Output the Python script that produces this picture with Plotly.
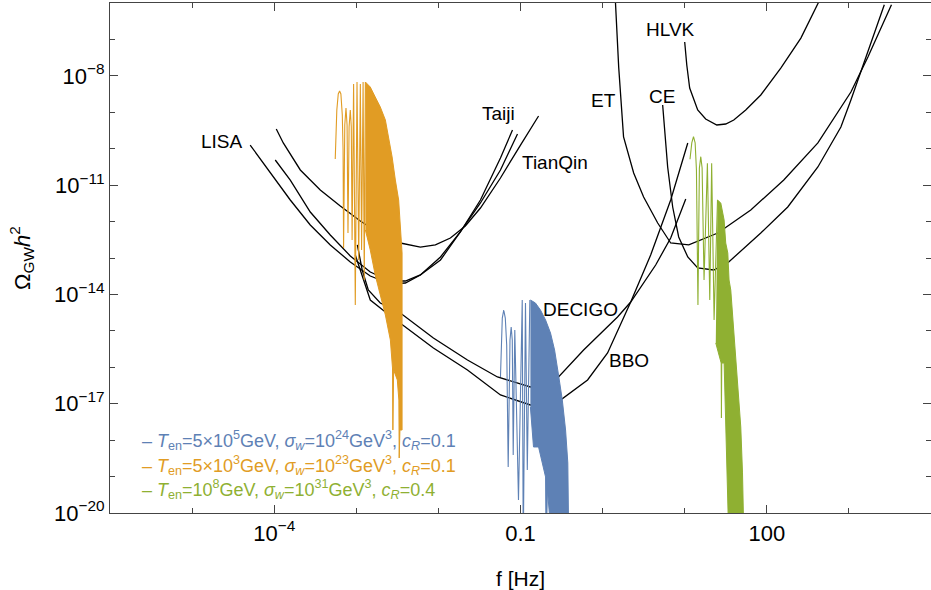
import plotly.graph_objects as go

# ---------------- detector sensitivity curves (f [Hz], Omega h^2) ----------------
lisa_f = [5.10e-5, 8.94e-5, 1.57e-4, 2.75e-4, 4.82e-4, 8.45e-4, 1.48e-3, 2.60e-3, 3.96e-3, 6.03e-3, 1.06e-2, 1.85e-2, 3.25e-2, 5.70e-2, 9.19e-2]
lisa_om = [1.26e-10, 2.30e-11, 3.91e-12, 8.05e-13, 2.28e-13, 7.77e-14, 3.21e-14, 1.94e-14, 2.06e-14, 3.42e-14, 1.07e-13, 5.18e-13, 3.24e-12, 2.61e-11, 2.54e-10]

taiji_f = [1.03e-4, 1.57e-4, 2.75e-4, 4.82e-4, 8.45e-4, 1.48e-3, 2.60e-3, 3.96e-3, 6.03e-3, 1.06e-2, 1.85e-2, 3.25e-2, 5.70e-2, 7.99e-2]
taiji_om = [4.90e-11, 1.38e-11, 1.83e-12, 4.29e-13, 1.14e-13, 4.13e-14, 2.34e-14, 2.34e-14, 3.42e-14, 8.81e-14, 5.18e-13, 3.91e-12, 5.56e-11, 3.27e-10]

tianqin_f = [1.06e-4, 1.29e-4, 2.08e-4, 3.64e-4, 6.38e-4, 1.12e-3, 1.96e-3, 3.44e-3, 6.03e-3, 9.19e-3, 1.40e-2, 2.13e-2, 3.25e-2, 5.70e-2, 0.100, 0.166]
tianqin_om = [3.48e-10, 1.44e-10, 2.61e-11, 7.36e-12, 2.68e-12, 1.04e-12, 4.56e-13, 2.58e-13, 2.00e-13, 2.28e-13, 3.54e-13, 7.57e-13, 2.36e-12, 1.57e-11, 1.26e-10, 7.91e-10]

decigo_f = [1.03e-3, 1.18e-3, 1.40e-3, 1.96e-3, 3.44e-3, 8.69e-3, 2.26e-2, 5.24e-2, 0.132, 0.283, 0.587, 1.52, 2.20, 4.43, 6.75, 10.3]
decigo_om = [2.28e-13, 4.69e-14, 1.32e-14, 5.82e-15, 3.10e-15, 6.37e-16, 1.58e-16, 5.42e-17, 2.88e-17, 5.08e-17, 2.99e-16, 2.40e-15, 6.19e-15, 6.43e-14, 3.54e-13, 4.17e-12]

bbo_f = [9.72e-4, 1.18e-3, 1.48e-3, 2.26e-3, 3.44e-3, 8.69e-3, 2.26e-2, 5.70e-2, 0.132, 0.307, 0.656, 1.15, 2.20, 3.85, 6.75, 10.9]
bbo_om = [1.21e-13, 3.42e-14, 7.03e-15, 3.30e-15, 1.64e-15, 3.39e-16, 8.43e-17, 1.74e-17, 9.23e-18, 1.26e-17, 4.48e-17, 2.47e-16, 6.19e-15, 1.21e-13, 3.91e-12, 1.44e-10]

et_f = [1.43, 1.57, 1.80, 2.39, 3.16, 4.69, 6.75, 11.2, 25.3, 63.8, 161, 419, 1058, 1705, 3300]
et_om = [1.2e-6, 1.75e-8, 2.10e-10, 2.15e-11, 4.73e-12, 9.14e-13, 2.58e-13, 2.28e-13, 4.86e-13, 2.08e-12, 1.38e-11, 1.44e-10, 3.61e-9, 3.30e-8, 9.0e-7]

ce_f = [5.39, 6.20, 7.14, 8.45, 10.9, 14.4, 22.6, 34.4, 84.5, 180, 419, 799, 1058, 1612, 2700]
ce_om = [1.58e-9, 3.15e-11, 2.51e-12, 3.78e-13, 1.07e-13, 5.32e-14, 4.69e-14, 7.77e-14, 4.86e-13, 2.51e-12, 3.15e-11, 3.95e-10, 2.17e-9, 3.30e-8, 9.0e-7]

hlvk_f = [10.0, 10.6, 11.5, 14.4, 18.0, 24.6, 31.6, 39.6, 55.4, 84.5, 148, 260, 440]
hlvk_om = [8.50e-8, 1.99e-8, 4.64e-9, 1.16e-9, 6.55e-10, 4.48e-10, 4.77e-10, 6.14e-10, 1.16e-9, 2.98e-9, 1.64e-8, 1.09e-7, 1.2e-6]

# ---------------- signal spectra ----------------
# orange: T_en = 5e3 GeV  (sparse oscillations, then outline of the dense band)
orange_f = [5.54e-4, 5.79e-4, 6.03e-4, 6.26e-4, 6.49e-4, 6.75e-4, 6.90e-4, 7.00e-4, 7.24e-4, 7.49e-4, 7.72e-4, 7.92e-4,
            8.17e-4, 8.45e-4, 8.69e-4, 8.89e-4, 9.27e-4, 9.72e-4, 1.02e-3, 1.07e-3, 1.12e-3, 1.16e-3, 1.21e-3, 1.25e-3, 1.29e-3]
orange_om = [5.22e-11, 1.16e-9, 3.18e-9, 3.84e-9, 3.18e-9, 8.43e-10, 9.23e-11, 1.88e-13, 4.48e-10, 1.31e-9, 4.48e-10, 4.86e-13,
             3.95e-10, 1.16e-9, 3.95e-10, 3.12e-13, 5.98e-9, 5.13e-15, 6.78e-9, 8.81e-14, 5.98e-9, 1.66e-13, 6.78e-9, 2.49e-14, 6.78e-9]
orange_band_f = [1.29e-3, 1.48e-3, 1.70e-3, 1.96e-3, 2.26e-3, 2.48e-3, 2.73e-3, 2.99e-3, 3.28e-3, 3.61e-3, 3.61e-3,
                 3.40e-3, 3.37e-3, 3.33e-3, 3.30e-3, 3.16e-3, 2.85e-3, 2.82e-3, 2.79e-3, 2.76e-3, 2.60e-3, 2.26e-3, 1.96e-3, 1.70e-3, 1.48e-3, 1.29e-3]
orange_band_om = [6.78e-9, 4.94e-9, 2.63e-9, 1.40e-9, 6.14e-10, 2.10e-10, 5.93e-11, 1.38e-11, 3.91e-12, 1.37e-13, 1.90e-18,
                  1.90e-18, 3.24e-19, 3.24e-19, 1.26e-17, 4.48e-17, 8.43e-17, 1.90e-18, 1.90e-18, 9.57e-17, 5.61e-16, 2.73e-15, 9.65e-15, 3.42e-14, 1.66e-13, 5.88e-13]

# blue: T_en = 5e5 GeV
blue_f = [5.70e-2, 6.00e-2, 6.25e-2, 6.53e-2, 6.79e-2, 7.08e-2, 7.45e-2, 7.70e-2, 7.94e-2, 8.15e-2, 8.52e-2, 9.45e-2,
          0.105, 0.108, 0.115, 0.121, 0.130]
blue_om = [5.42e-17, 2.25e-15, 3.74e-15, 2.25e-15, 4.09e-16, 1.83e-19, 5.61e-16, 1.28e-15, 5.61e-16, 3.92e-19, 1.06e-15, 2.28e-20,
           7.03e-15, 1e-21, 5.82e-15, 1.52e-19, 7.03e-15]
blue_band_f = [0.132, 0.152, 0.175, 0.202, 0.232, 0.260, 0.293, 0.323, 0.354, 0.377, 0.388,
               0.244, 0.213, 0.209, 0.205, 0.202, 0.166, 0.144, 0.132]
blue_band_om = [7.03e-15, 5.82e-15, 3.74e-15, 1.99e-15, 8.74e-16, 2.99e-16, 5.42e-17, 1.26e-17, 1.90e-18, 2.36e-19, 1e-21,
                1e-21, 4.28e-20, 1e-21, 1e-21, 9.75e-20, 6.49e-19, 6.49e-19, 8.13e-18]

# green: T_en = 1e8 GeV
green_f = [11.6, 12.2, 12.8, 13.4, 13.9, 14.2, 14.5, 15.1, 15.7, 16.3, 17.2, 18.9, 20.2, 21.3, 22.8, 25.1]
green_om = [5.13e-11, 1.44e-10, 2.14e-10, 1.44e-10, 2.61e-11, 1.10e-12, 5.13e-15, 2.96e-11, 6.04e-11, 2.96e-11, 2.49e-14,
            3.98e-11, 7.03e-15, 3.98e-11, 1.99e-15, 3.91e-12]
green_band_f = [25.1, 27.5, 30.2, 31.6, 33.5, 34.7, 36.4, 38.5, 39.9, 43.9, 48.2, 50.6, 52.9,
                34.7, 32.5, 30.2, 28.3, 28.0, 27.8, 23.9]
green_band_om = [3.91e-12, 3.24e-12, 1.10e-12, 2.58e-13, 1.37e-13, 2.49e-14, 1.32e-14, 2.40e-15, 1.06e-15, 4.48e-17, 2.30e-18, 1.26e-19, 1e-21,
                 1e-21, 5.37e-19, 1.31e-16, 1.31e-16, 4.06e-18, 1.31e-16, 4.65e-16]

legend_texts = [
    "– <i>T</i><sub>en</sub>=5×10<sup>5</sup>GeV, <i>σ<sub>w</sub></i>=10<sup>24</sup>GeV<sup>3</sup>, <i>c<sub>R</sub></i>=0.1",
    "– <i>T</i><sub>en</sub>=5×10<sup>3</sup>GeV, <i>σ<sub>w</sub></i>=10<sup>23</sup>GeV<sup>3</sup>, <i>c<sub>R</sub></i>=0.1",
    "– <i>T</i><sub>en</sub>=10<sup>8</sup>GeV, <i>σ<sub>w</sub></i>=10<sup>31</sup>GeV<sup>3</sup>, <i>c<sub>R</sub></i>=0.4",
]

x_tickvals = [1e-4, 0.1, 100]
x_ticktext = ["10<sup>−4</sup>", "0.1", "100"]
x_minor = [1e-6, 1e-5, 1e-3, 1e-2, 1, 10, 1e3, 1e4]
y_tickvals = [1e-8, 1e-11, 1e-14, 1e-17, 1e-20]
y_ticktext = ["10<sup>−8</sup>", "10<sup>−11</sup>", "10<sup>−14</sup>", "10<sup>−17</sup>", "10<sup>−20</sup>"]
y_minor = [1e-6, 1e-7, 1e-9, 1e-10, 1e-12, 1e-13, 1e-15, 1e-16, 1e-18, 1e-19]

BLUE = "#5E81B5"
ORANGE = "#E19C24"
GREEN = "#8FB032"
FONT = "Arial, Liberation Sans, sans-serif"

fig = go.Figure()

for fx, om in [(lisa_f, lisa_om), (taiji_f, taiji_om), (tianqin_f, tianqin_om),
               (decigo_f, decigo_om), (bbo_f, bbo_om), (et_f, et_om), (ce_f, ce_om), (hlvk_f, hlvk_om)]:
    fig.add_trace(go.Scatter(x=fx, y=om, mode="lines", line=dict(color="black", width=1.3),
                             showlegend=False, hoverinfo="skip"))

for fx, om, bf, bo, col in [(blue_f, blue_om, blue_band_f, blue_band_om, BLUE),
                            (orange_f, orange_om, orange_band_f, orange_band_om, ORANGE),
                            (green_f, green_om, green_band_f, green_band_om, GREEN)]:
    fig.add_trace(go.Scatter(x=bf, y=bo, mode="lines", fill="toself", fillcolor=col,
                             line=dict(color=col, width=1), showlegend=False, hoverinfo="skip"))
    fig.add_trace(go.Scatter(x=fx, y=om, mode="lines", line=dict(color=col, width=1.1),
                             showlegend=False, hoverinfo="skip"))

labels = [("LISA", 0.1364, 0.7275), ("Taiji", 0.4726, 0.7843), ("TianQin", 0.5420, 0.6882),
          ("ET", 0.6017, 0.8098), ("HLVK", 0.6821, 0.9471), ("CE", 0.6724, 0.8157),
          ("DECIGO", 0.5725, 0.40), ("BBO", 0.6322, 0.30)]
for t, xp, yp in labels:
    fig.add_annotation(text=t, x=xp, y=yp, xref="paper", yref="paper", showarrow=False,
                       xanchor="center", yanchor="middle", font=dict(size=19, color="black", family=FONT))

for t, yp, col in zip(legend_texts, [0.1431, 0.0941, 0.0451], [BLUE, ORANGE, GREEN]):
    fig.add_annotation(text=t, x=0.0365, y=yp, xref="paper", yref="paper", showarrow=False,
                       xanchor="left", yanchor="middle", font=dict(size=18, color=col, family=FONT))

axis_common = dict(type="log", showgrid=False, zeroline=False, showline=True, linecolor="#444",
                   linewidth=1.2, mirror="ticks", ticks="inside", ticklen=8, tickcolor="#444",
                   tickwidth=1, tickfont=dict(size=22, color="black", family=FONT))

fig.update_layout(
    width=931, height=590,
    margin=dict(l=110, r=0, t=3, b=77),
    plot_bgcolor="white", paper_bgcolor="white",
    font=dict(family=FONT),
    xaxis=dict(range=[-6, 4], tickmode="array", tickvals=x_tickvals, ticktext=x_ticktext,
               minor=dict(tickmode="array", tickvals=x_minor, ticks="inside", ticklen=5, tickcolor="#444"),
               title=dict(text="f [Hz]", font=dict(size=21, color="black", family=FONT), standoff=26),
               **axis_common),
    yaxis=dict(range=[-20, -6], tickmode="array", tickvals=y_tickvals, ticktext=y_ticktext,
               minor=dict(tickmode="array", tickvals=y_minor, ticks="inside", ticklen=5, tickcolor="#444"),
               title=dict(text="Ω<sub>GW</sub><i>h</i><sup>2</sup>", font=dict(size=22, color="black", family=FONT), standoff=17),
               **axis_common),
)

fig.write_html("out.html", config={"displayModeBar": False},
               post_script="document.body.style.margin='0px';")
